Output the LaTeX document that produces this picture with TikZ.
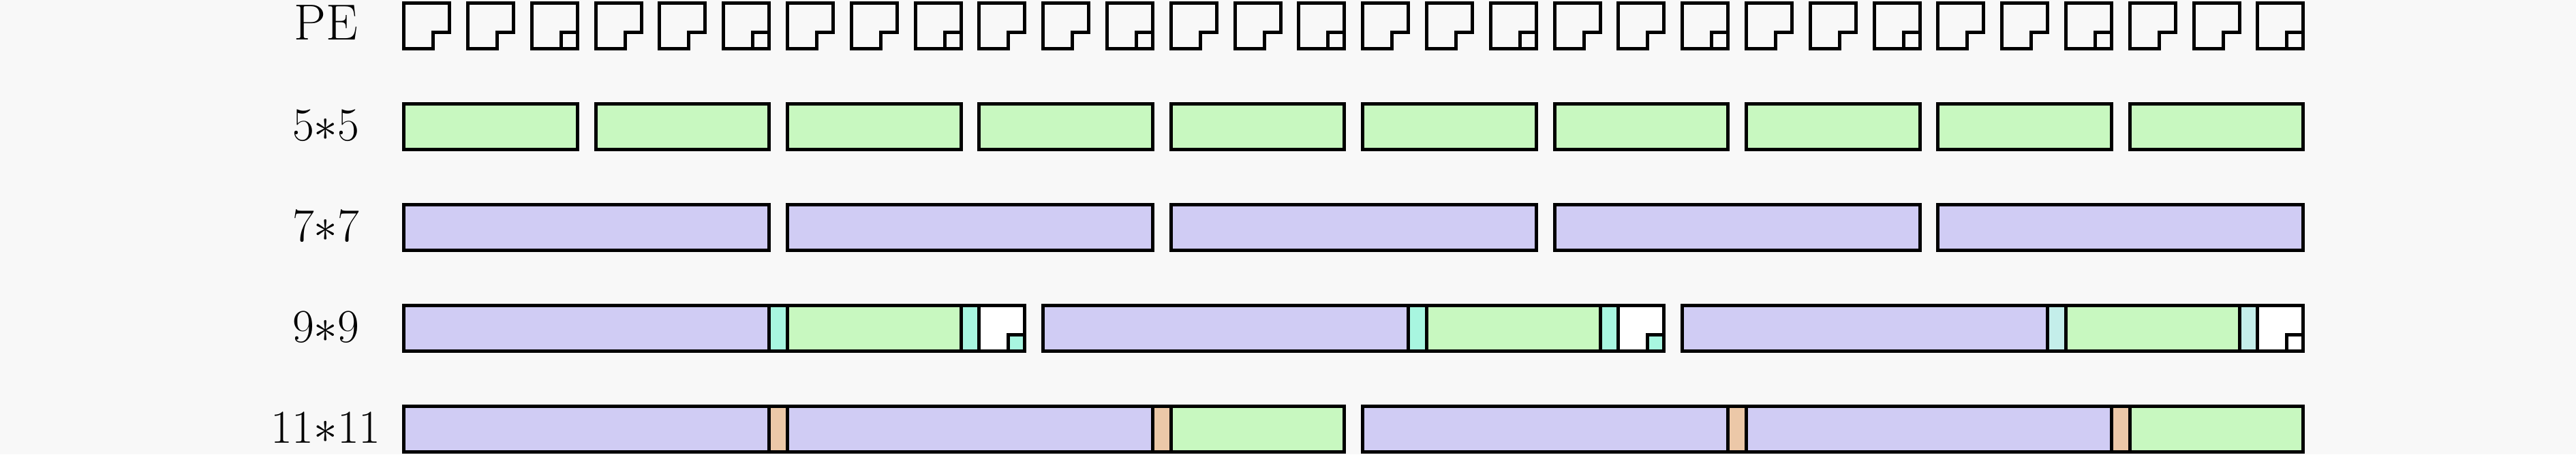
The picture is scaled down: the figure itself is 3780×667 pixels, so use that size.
\documentclass[tikz,border=0pt]{standalone}
\begin{document}
\definecolor{bgc}{HTML}{F8F8F8}
\definecolor{pur}{HTML}{D0CCF4}
\definecolor{grn}{HTML}{C8F8C0}
\definecolor{cyn}{HTML}{A8F6E0}
\definecolor{cynb}{HTML}{C4EEEA}
\definecolor{org}{HTML}{ECC8A8}
\begin{tikzpicture}[x=0.25pt,y=-0.25pt,
  outl/.style={draw=black,line width=1.25pt},
  divl/.style={draw=black,line width=1.25pt},
  lbl/.style={font=\fontsize{18.6}{22}\selectfont,inner sep=0pt}]
\fill[bgc] (0,0) rectangle (3780,667);
\useasboundingbox (0,0) rectangle (3780,667);
\def\p{93.8}\def\w{67}\def\X{592.6}\def\h{67}\def\n{24}
% labels
\node[lbl] (lpe) at (478,33) {PE};
\node[lbl] (l5) at (478,184) {$5{\ast}5$};
\node[lbl] (l7) at (478,332) {$7{\ast}7$};
\node[lbl] (l9) at (478,480) {$9{\ast}9$};
\node[lbl] (l11) at (478,628) {$11{\ast}11$};
% PE row
\foreach \i in {0,...,29}{
  \pgfmathsetmacro\xa{\X+\i*\p}
  \pgfmathsetmacro\xb{\xa+\w}
  \pgfmathtruncatemacro\m{mod(\i,3)}
  \ifnum\m=2
    \draw[outl] (\xa,4) rectangle (\xb,4+\h);
    \draw[outl] (\xb-\n,4+\h) -- (\xb-\n,4+\h-\n) -- (\xb,4+\h-\n);
  \else
    \draw[outl] (\xa,4) -- (\xb,4) -- (\xb,4+\h-\n) -- (\xb-\n,4+\h-\n) -- (\xb-\n,4+\h) -- (\xa,4+\h) -- cycle;
  \fi
}
% 5*5 row
\foreach \k in {0,...,9}{
  \pgfmathsetmacro\xa{\X+3*\k*\p}
  \pgfmathsetmacro\xb{\xa+2*\p+\w}
  \draw[outl,fill=grn] (\xa,152) rectangle (\xb,152+\h);
}
% 7*7 row
\foreach \k in {0,...,4}{
  \pgfmathsetmacro\xa{\X+6*\k*\p}
  \pgfmathsetmacro\xb{\xa+5*\p+\w}
  \draw[outl,fill=pur] (\xa,300) rectangle (\xb,300+\h);
}
% 9*9 row
\foreach \g in {0,1,2}{
  \pgfmathsetmacro\xs{\X+10*\g*\p}
  \pgfmathsetmacro\xpe{\xs+5*\p+\w}
  \pgfmathsetmacro\xgs{\xs+6*\p}
  \pgfmathsetmacro\xge{\xs+8*\p+\w}
  \pgfmathsetmacro\xls{\xs+9*\p}
  \pgfmathsetmacro\xe{\xs+9*\p+\w}
  \ifnum\g=2 \def\sc{cynb}\def\qc{white}\else \def\sc{cyn}\def\qc{cyn}\fi
  \fill[pur] (\xs,448) rectangle (\xpe,448+\h);
  \fill[\sc] (\xpe,448) rectangle (\xgs,448+\h);
  \fill[grn] (\xgs,448) rectangle (\xge,448+\h);
  \fill[\sc] (\xge,448) rectangle (\xls,448+\h);
  \fill[white] (\xls,448) rectangle (\xe,448+\h);
  \draw[outl,fill=\qc] (\xe-\n,448+\h) -- (\xe-\n,448+\h-\n) -- (\xe,448+\h-\n) -- (\xe,448+\h) -- cycle;
  \draw[divl] (\xpe,448) -- (\xpe,448+\h) (\xgs,448) -- (\xgs,448+\h)
              (\xge,448) -- (\xge,448+\h) (\xls,448) -- (\xls,448+\h);
  \draw[outl] (\xs,448) rectangle (\xe,448+\h);
}
% 11*11 row
\foreach \g in {0,1}{
  \pgfmathsetmacro\xs{\X+15*\g*\p}
  \pgfmathsetmacro\xa{\xs+5*\p+\w}
  \pgfmathsetmacro\xb{\xs+6*\p}
  \pgfmathsetmacro\xc{\xs+11*\p+\w}
  \pgfmathsetmacro\xd{\xs+12*\p}
  \pgfmathsetmacro\xe{\xs+14*\p+\w}
  \fill[pur] (\xs,596) rectangle (\xa,596+\h);
  \fill[org] (\xa,596) rectangle (\xb,596+\h);
  \fill[pur] (\xb,596) rectangle (\xc,596+\h);
  \fill[org] (\xc,596) rectangle (\xd,596+\h);
  \fill[grn] (\xd,596) rectangle (\xe,596+\h);
  \draw[divl] (\xa,596) -- (\xa,596+\h) (\xb,596) -- (\xb,596+\h)
              (\xc,596) -- (\xc,596+\h) (\xd,596) -- (\xd,596+\h);
  \draw[outl] (\xs,596) rectangle (\xe,596+\h);
}
\end{tikzpicture}
\end{document}
